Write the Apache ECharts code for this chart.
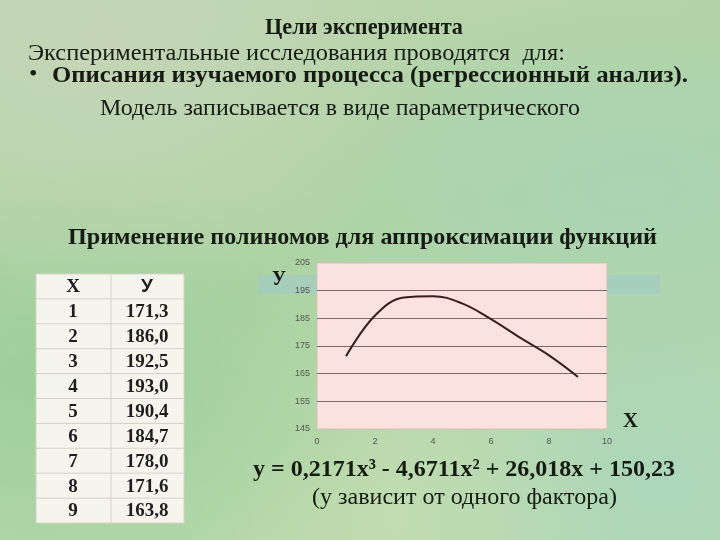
<!DOCTYPE html>
<html>
<head>
<meta charset="utf-8">
<script src="https://cdn.jsdelivr.net/npm/echarts@6/dist/echarts.min.js"></script>
<style>
html, body { margin: 0; padding: 0; }
body {
  width: 720px; height: 540px; position: relative; overflow: hidden;
  background:
    radial-gradient(ellipse at 15% 8%, rgba(200,214,188,0.7), rgba(200,214,188,0) 38%),
    radial-gradient(ellipse at 88% 35%, rgba(164,212,190,0.55), rgba(164,212,190,0) 40%),
    radial-gradient(ellipse at 6% 70%, rgba(150,206,150,0.7), rgba(150,206,150,0) 40%),
    radial-gradient(ellipse at 55% 95%, rgba(198,222,178,0.7), rgba(198,222,178,0) 40%),
    radial-gradient(ellipse at 92% 90%, rgba(168,214,196,0.65), rgba(168,214,196,0) 35%),
    linear-gradient(165deg, #bdd5ae 0%, #afd3a4 45%, #b6d9ab 100%);
}
#band { position: absolute; left: 258px; top: 275px; width: 402px; height: 19px; background: rgba(160,200,208,0.5); }
#main { position: absolute; left: 0; top: 0; width: 720px; height: 540px; }
</style>
</head>
<body>
<div id="band"></div>
<div id="main"></div>
<script>
// data
const xValues = [1, 2, 3, 4, 5, 6, 7, 8, 9];
const yValues = [171.3, 186.0, 192.5, 193.0, 190.4, 184.7, 178.0, 171.6, 163.8];
const xRange = [0, 10];
const yRange = [145, 205];

const serif = '"Liberation Serif", "DejaVu Serif", serif';
const ink = '#161c14';

// measure text so that it can be squeezed to the slide's width
const ctx = document.createElement('canvas').getContext('2d');
function fitScale(text, size, bold, width) {
  ctx.font = (bold ? 'bold ' : '') + size + 'px ' + serif;
  return width / ctx.measureText(text).width;
}
function textLine(text, left, cy, width, size, bold) {
  return {
    type: 'text', x: left, y: cy, z: 10,
    scaleX: fitScale(text, size, bold, width),
    style: {
      text: text, fill: ink, fontSize: size, fontFamily: serif,
      fontWeight: bold ? 'bold' : 'normal', align: 'left', verticalAlign: 'middle'
    }
  };
}

// table built from the data arrays
const tLeft = 36, tRight = 184, tTop = 274, tBottom = 523, tSplit = 111;
const rowH = (tBottom - tTop) / (xValues.length + 1);
const lineCol = '#d6d1c8';
const table = [{
  type: 'rect', z: 5,
  shape: { x: tLeft, y: tTop, width: tRight - tLeft, height: tBottom - tTop },
  style: { fill: 'rgba(250,247,242,0.94)', stroke: lineCol, lineWidth: 1 }
}, {
  type: 'line', z: 6,
  shape: { x1: tSplit, y1: tTop, x2: tSplit, y2: tBottom },
  style: { stroke: lineCol, lineWidth: 1 }
}];
const cellText = (text, cx, cy, family) => ({
  type: 'text', x: cx, y: cy, z: 7,
  style: { text: text, fill: '#1e1e1e', fontSize: 19, fontFamily: family || serif, fontWeight: 'bold', align: 'center', verticalAlign: 'middle' }
});
table.push(cellText('X', 73, tTop + rowH / 2 + 1));
table.push(cellText('У', 147, tTop + rowH / 2, '"Liberation Sans", sans-serif'));
xValues.forEach((x, i) => {
  const y0 = tTop + rowH * (i + 1);
  table.push({ type: 'line', z: 6, shape: { x1: tLeft, y1: y0, x2: tRight, y2: y0 }, style: { stroke: lineCol, lineWidth: 1 } });
  table.push(cellText(String(x), 73, y0 + rowH / 2 + 1));
  table.push(cellText(yValues[i].toFixed(1).replace('.', ','), 147, y0 + rowH / 2 + 1));
});

const texts = [
  textLine('Цели эксперимента', 265, 28, 198, 23, true),
  textLine('Экспериментальные исследования проводятся  для:', 28, 54, 537, 24, false),
  { type: 'text', x: 29, y: 75, z: 10, style: { text: '•', fill: ink, fontSize: 24, fontFamily: serif, align: 'left', verticalAlign: 'middle' } },
  textLine('Описания изучаемого процесса (регрессионный анализ).', 52, 76, 636, 23, true),
  textLine('Модель записывается в виде параметрического', 100, 109, 480, 24, false),
  textLine('Применение полиномов для аппроксимации функций', 68, 238, 589, 24, true),
  textLine('У', 272, 280, 14, 21, true),
  textLine('X', 623, 422, 15, 21, true),
  textLine('y = 0,2171x³ - 4,6711x² + 26,018x + 150,23', 253, 470, 422, 24, true),
  textLine('(у зависит от одного фактора)', 312, 498, 305, 23, false)
];

const chart = echarts.init(document.getElementById('main'));
chart.setOption({
  backgroundColor: 'transparent',
  animation: false,
  grid: {
    left: 317, top: 263, width: 290, height: 166, show: true,
    backgroundColor: '#fce2de', borderColor: '#d3c0bd', borderWidth: 1
  },
  xAxis: {
    type: 'value', min: xRange[0], max: xRange[1], interval: 2,
    axisLine: { show: false }, axisTick: { show: false }, splitLine: { show: false },
    axisLabel: { fontSize: 9, color: '#555', margin: 8, fontFamily: '"Liberation Sans", sans-serif' }
  },
  yAxis: {
    type: 'value', min: yRange[0], max: yRange[1], interval: 10,
    axisLine: { show: false }, axisTick: { show: false },
    splitLine: { show: true, showMinLine: false, showMaxLine: false, lineStyle: { color: '#7a6b6b', width: 1 } },
    axisLabel: { fontSize: 9, color: '#555', margin: 7, fontFamily: '"Liberation Sans", sans-serif' }
  },
  series: [{
    type: 'line',
    data: xValues.map((x, i) => [x, yValues[i]]),
    smooth: 0.4,
    symbol: 'none',
    lineStyle: { color: '#3a1d1d', width: 2 }
  }],
  graphic: table.concat(texts)
});
</script>
</body>
</html>
